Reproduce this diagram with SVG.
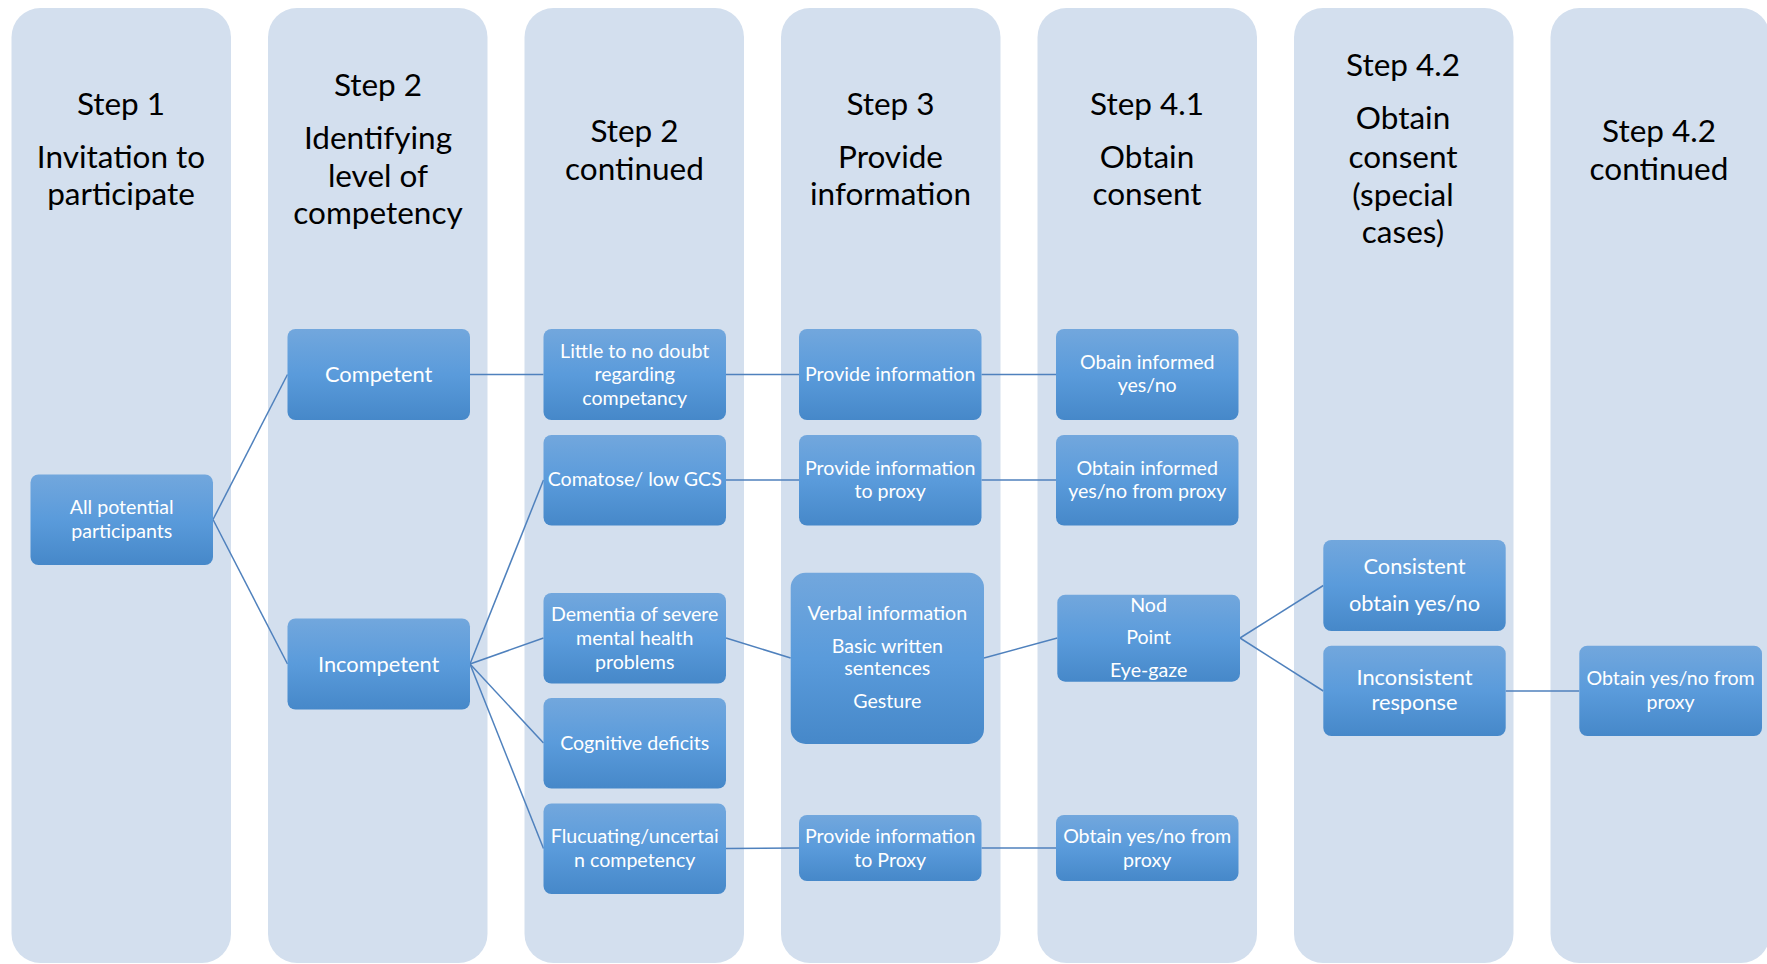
<svg xmlns="http://www.w3.org/2000/svg" width="1767" height="964" viewBox="0 0 1767 964">
<defs>
<linearGradient id="nodeFill" x1="0" y1="0" x2="0" y2="1">
<stop offset="0" stop-color="#72A7DD"/>
<stop offset="0.5" stop-color="#5A9BDB"/>
<stop offset="1" stop-color="#4688C9"/>
</linearGradient>
<style>
.col{fill:#D3DFEE}
.title{font-family:Lato,"Open Sans",sans-serif;font-size:31.5px;fill:#000;text-anchor:middle}
.node rect{fill:url(#nodeFill)}
.t{font-family:Lato,"Open Sans",sans-serif;font-size:19.6px;fill:#fff;text-anchor:middle}
.tl{font-family:Lato,"Open Sans",sans-serif;font-size:21.8px;fill:#fff;text-anchor:middle}
.conn line{stroke:#4F81BD;stroke-width:1.5;fill:none}
</style>
</defs>
<rect width="1767" height="964" fill="#fff"/>
<g id="columns">
<rect class="col" x="11.5" y="8" width="219.5" height="955" rx="29"/>
<rect class="col" x="268" y="8" width="219.5" height="955" rx="29"/>
<rect class="col" x="524.5" y="8" width="219.5" height="955" rx="29"/>
<rect class="col" x="781" y="8" width="219.5" height="955" rx="29"/>
<rect class="col" x="1037.5" y="8" width="219.5" height="955" rx="29"/>
<rect class="col" x="1294" y="8" width="219.5" height="955" rx="29"/>
<rect class="col" x="1550.5" y="8" width="219.5" height="955" rx="29"/>
</g>
<g id="titles">
<text class="title" x="121" y="115">Step 1</text>
<text class="title" x="121" y="168">Invitation to</text>
<text class="title" x="121" y="205">participate</text>
<text class="title" x="378" y="96">Step 2</text>
<text class="title" x="378" y="149">Identifying</text>
<text class="title" x="378" y="187">level of</text>
<text class="title" x="378" y="224">competency</text>
<text class="title" x="634.5" y="142">Step 2</text>
<text class="title" x="634.5" y="180">continued</text>
<text class="title" x="890.5" y="115">Step 3</text>
<text class="title" x="890.5" y="168">Provide</text>
<text class="title" x="890.5" y="205">information</text>
<text class="title" x="1147" y="115">Step 4.1</text>
<text class="title" x="1147" y="168">Obtain</text>
<text class="title" x="1147" y="205">consent</text>
<text class="title" x="1403" y="76">Step 4.2</text>
<text class="title" x="1403" y="129">Obtain</text>
<text class="title" x="1403" y="168">consent</text>
<text class="title" x="1403" y="206">(special</text>
<text class="title" x="1403" y="243">cases)</text>
<text class="title" x="1659" y="142">Step 4.2</text>
<text class="title" x="1659" y="180">continued</text>
</g>
<g id="connectors" class="conn">
<line x1="213" y1="519.5" x2="287.5" y2="374.5"/>
<line x1="213" y1="519.5" x2="287.5" y2="664"/>
<line x1="470" y1="374.5" x2="543.5" y2="374.5"/>
<line x1="470" y1="664" x2="543.5" y2="480"/>
<line x1="470" y1="664" x2="543.5" y2="638"/>
<line x1="470" y1="664" x2="543.5" y2="743"/>
<line x1="470" y1="664" x2="543.5" y2="848.5"/>
<line x1="726" y1="374.5" x2="799" y2="374.5"/>
<line x1="726" y1="480" x2="799" y2="480"/>
<line x1="726" y1="638" x2="790.7" y2="658"/>
<line x1="726" y1="848.5" x2="799" y2="848"/>
<line x1="981.5" y1="374.5" x2="1056" y2="374.5"/>
<line x1="981.5" y1="480" x2="1056" y2="480"/>
<line x1="984" y1="658" x2="1057.3" y2="638"/>
<line x1="981.5" y1="848" x2="1056" y2="848"/>
<line x1="1240" y1="638" x2="1323.3" y2="585.5"/>
<line x1="1240" y1="638" x2="1323.3" y2="691"/>
<line x1="1505.7" y1="691" x2="1579.3" y2="691"/>
</g>
<g id="n-all" class="node"><rect x="30.5" y="474.5" width="182.5" height="90.5" rx="8"/><text class="t" x="121.7" y="514">All potential</text><text class="t" x="121.7" y="538">participants</text></g>
<g id="n-competent" class="node"><rect x="287.5" y="329" width="182.5" height="91" rx="8"/><text class="tl" x="378.7" y="382">Competent</text></g>
<g id="n-incompetent" class="node"><rect x="287.5" y="618.5" width="182.5" height="91" rx="8"/><text class="tl" x="378.7" y="672">Incompetent</text></g>
<g id="n-little" class="node"><rect x="543.5" y="329" width="182.5" height="91" rx="8"/><text class="t" x="634.7" y="357.5">Little to no doubt</text><text class="t" x="634.7" y="381">regarding</text><text class="t" x="634.7" y="405">competancy</text></g>
<g id="n-comatose" class="node"><rect x="543.5" y="435" width="182.5" height="90.5" rx="8"/><text class="t" x="634.7" y="486">Comatose/ low GCS</text></g>
<g id="n-dementia" class="node"><rect x="543.5" y="593" width="182.5" height="90.5" rx="8"/><text class="t" x="634.7" y="621">Dementia of severe</text><text class="t" x="634.7" y="645">mental health</text><text class="t" x="634.7" y="668.5">problems</text></g>
<g id="n-cognitive" class="node"><rect x="543.5" y="698" width="182.5" height="90.5" rx="8"/><text class="t" x="634.7" y="750">Cognitive deficits</text></g>
<g id="n-fluc" class="node"><rect x="543.5" y="803.5" width="182.5" height="90.5" rx="8"/><text class="t" x="634.7" y="843">Flucuating/uncertai</text><text class="t" x="634.7" y="867">n competency</text></g>
<g id="n-provide" class="node"><rect x="799" y="329" width="182.5" height="91" rx="8"/><text class="t" x="890.2" y="381">Provide information</text></g>
<g id="n-provide-proxy" class="node"><rect x="799" y="435" width="182.5" height="90.5" rx="8"/><text class="t" x="890.2" y="474.7">Provide information</text><text class="t" x="890.2" y="498.4">to proxy</text></g>
<g id="n-verbal" class="node"><rect x="790.7" y="572.7" width="193.3" height="171.3" rx="15"/><text class="t" x="887.3" y="620">Verbal information</text><text class="t" x="887.3" y="653.3">Basic written</text><text class="t" x="887.3" y="675">sentences</text><text class="t" x="887.3" y="708.3">Gesture</text></g>
<g id="n-provide-proxy2" class="node"><rect x="799" y="815" width="182.5" height="66" rx="8"/><text class="t" x="890.2" y="843">Provide information</text><text class="t" x="890.2" y="867">to Proxy</text></g>
<g id="n-obain" class="node"><rect x="1056" y="329" width="182.5" height="91" rx="8"/><text class="t" x="1147.2" y="368.8">Obain informed</text><text class="t" x="1147.2" y="392.4">yes/no</text></g>
<g id="n-obtain-proxy" class="node"><rect x="1056" y="435" width="182.5" height="90.5" rx="8"/><text class="t" x="1147.2" y="474.7">Obtain informed</text><text class="t" x="1147.2" y="498.4">yes/no from proxy</text></g>
<g id="n-nod" class="node"><rect x="1057.3" y="594.7" width="182.7" height="87" rx="8"/><text class="t" x="1148.6" y="612.3">Nod</text><text class="t" x="1148.6" y="644">Point</text><text class="t" x="1148.6" y="676.7">Eye-gaze</text></g>
<g id="n-obtain-yn-proxy" class="node"><rect x="1056" y="815" width="182.5" height="66" rx="8"/><text class="t" x="1147.2" y="843">Obtain yes/no from</text><text class="t" x="1147.2" y="867">proxy</text></g>
<g id="n-consistent" class="node"><rect x="1323.3" y="540" width="182.4" height="91" rx="8"/><text class="tl" x="1414.5" y="574.3">Consistent</text><text class="tl" x="1414.5" y="610.7">obtain yes/no</text></g>
<g id="n-inconsistent" class="node"><rect x="1323.3" y="645.7" width="182.4" height="90.3" rx="8"/><text class="tl" x="1414.5" y="685">Inconsistent</text><text class="tl" x="1414.5" y="710">response</text></g>
<g id="n-final" class="node"><rect x="1579.3" y="645.7" width="182.7" height="90.3" rx="8"/><text class="t" x="1670.6" y="685">Obtain yes/no from</text><text class="t" x="1670.6" y="709.3">proxy</text></g>
</svg>
